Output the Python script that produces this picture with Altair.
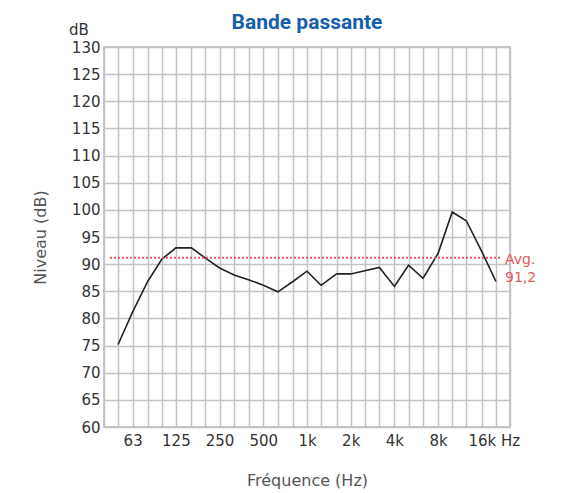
import altair as alt
import pandas as pd

# 1/3-octave measurement points (Hz) and levels (dB)
freq_hz = [50, 63, 80, 100, 125, 160, 200, 250, 315, 400, 500, 630, 800, 1000,
           1250, 1600, 2000, 2500, 3150, 4000, 5000, 6300, 8000, 10000, 12500,
           16000, 20000]
level_db = [75.2, 81.2, 86.8, 90.9, 93.0, 93.0, 91.1, 89.3, 88.0, 87.1, 86.1,
            84.9, 86.8, 88.7, 86.1, 88.2, 88.2, 88.8, 89.4, 85.9, 89.8, 87.4,
            92.0, 99.6, 98.0, 92.3, 86.8]

# grid lines (1/3 octave) and the labelled ones
grid_hz = [40, 50, 63, 80, 100, 125, 160, 200, 250, 315, 400, 500, 630, 800,
           1000, 1250, 1600, 2000, 2500, 3150, 4000, 5000, 6300, 8000, 10000,
           12500, 16000, 20000, 25000]
label_hz = [63, 125, 250, 500, 1000, 2000, 4000, 8000, 16000, 25000]
label_txt = ["63", "125", "250", "500", "1k", "2k", "4k", "8k", "16k", "Hz"]
y_ticks = [60, 65, 70, 75, 80, 85, 90, 95, 100, 105, 110, 115, 120, 125, 130]

avg_db = 91.2
avg_span = [44, 22000]
avg_text = "Avg.\n91,2"
unit_text = "dB"

RED = "#e05a5a"
BLUE = "#155fa8"

df = pd.DataFrame({"freq": freq_hz, "level": level_db})
avg_df = pd.DataFrame({"x0": [avg_span[0]], "x1": [avg_span[1]], "avg": [avg_db],
                       "label": [avg_text]})
unit_df = pd.DataFrame({"t": [unit_text]})

expr = "''"
for v, t in reversed(list(zip(label_hz, label_txt))):
    expr = f"datum.value == {v} ? '{t}' : ({expr})"

xscale = alt.Scale(type="log", domain=[40, 25000], nice=False)
yscale = alt.Scale(domain=[60, 130], nice=False, zero=False)

xaxis = alt.Axis(values=grid_hz, labelExpr=expr, grid=True, gridColor="#c4c4c4",
                 gridWidth=1.5, domain=False, ticks=False, labelFont="DejaVu Sans",
                 labelFontSize=15, labelColor="#333333", labelPadding=6,
                 labelFlush=False, labelOverlap=False,
                 title="Fréquence (Hz)", titleFont="DejaVu Sans", titleFontSize=16,
                 titleFontWeight="normal", titleColor="#555555", titleY=53,
                 titleBaseline="middle")
yaxis = alt.Axis(values=y_ticks, grid=True, gridColor="#c4c4c4",
                 gridWidth=1.5, domain=False, ticks=False, labelFont="DejaVu Sans",
                 labelFontSize=15, labelColor="#333333", labelPadding=4,
                 labelFlush=False, labelOverlap=False,
                 title="Niveau (dB)", titleFont="DejaVu Sans", titleFontSize=16,
                 titleFontWeight="normal", titleColor="#555555", titleX=-64,
                 titleY=190, titleAlign="center", titleBaseline="middle")

line = alt.Chart(df).mark_line(color="#222222", strokeWidth=1.6).encode(
    x=alt.X("freq:Q", scale=xscale, axis=xaxis),
    y=alt.Y("level:Q", scale=yscale, axis=yaxis),
)

rule = alt.Chart(avg_df).mark_rule(color=RED, strokeDash=[2, 2], strokeWidth=2).encode(
    x=alt.X("x0:Q", scale=xscale, axis=xaxis), x2="x1:Q",
    y=alt.Y("avg:Q", scale=yscale, axis=yaxis)
)

avg_label = alt.Chart(avg_df).mark_text(
    align="left", baseline="top", lineBreak="\n", fontSize=14, font="DejaVu Sans",
    color=RED, dy=-5, lineHeight=18
).encode(x=alt.value(401), y=alt.Y("avg:Q", scale=yscale, axis=yaxis),
         text="label:N")

unit = alt.Chart(unit_df).mark_text(
    align="left", baseline="alphabetic", fontSize=15, font="DejaVu Sans",
    color="#333333"
).encode(x=alt.value(-35), y=alt.value(-12), text="t:N")

chart = alt.layer(line, rule, avg_label, unit).properties(
    width=406, height=380,
    title=alt.Title("Bande passante", font="Roboto", fontSize=21, fontWeight="bold",
                    color=BLUE, anchor="middle", offset=4, dy=14),
    autosize=alt.AutoSizeParams(type="none"),
    padding={"left": 96, "top": 39, "right": 48, "bottom": 66},
    background="white",
).configure_view(stroke="#b8b8b8", strokeWidth=1.5)

chart.save("out.html", embed_options={"renderer": "svg", "actions": False})
